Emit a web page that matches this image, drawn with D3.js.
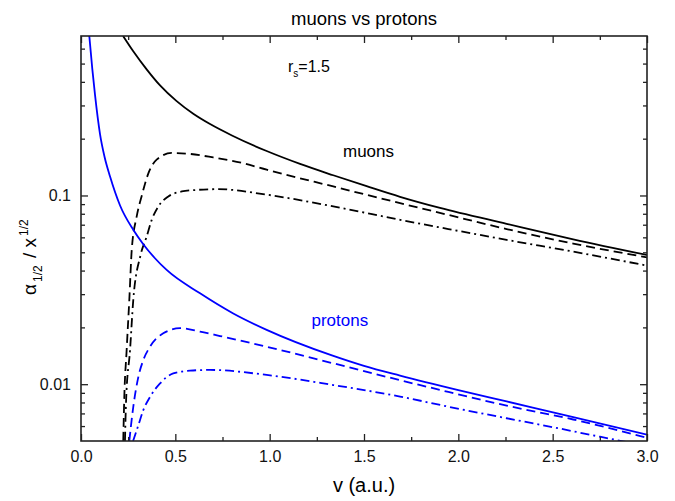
<!DOCTYPE html>
<html>
<head>
<meta charset="utf-8">
<script src="https://cdn.jsdelivr.net/npm/d3@7"></script>
<style>
  body { margin: 0; background: #fff; }
  text { font-family: "Liberation Sans", Arial, sans-serif; }
</style>
</head>
<body>
<div id="container"></div>
<script>
const width = 675;
const height = 501;
const margin = { top: 36, right: 28, bottom: 60, left: 81 };

// v (a.u.), alpha_1/2 / x^1/2
const muonTotal = [
    [0.223, 0.700], [0.277, 0.581], [0.348, 0.466], [0.419, 0.383], [0.507, 0.316],
    [0.595, 0.271], [0.684, 0.239], [0.80, 0.208], [0.984, 0.172], [1.161, 0.147],
    [1.337, 0.128], [1.514, 0.112], [1.691, 0.0984], [1.903, 0.0859], [2.256, 0.0708],
    [2.609, 0.0586], [3.0, 0.0484]
];
const muonDashed = [
    [0.224, 0.005], [0.229, 0.0082], [0.242, 0.0152], [0.256, 0.0279], [0.269, 0.0515],
    [0.295, 0.0773], [0.321, 0.0988], [0.357, 0.131], [0.401, 0.155], [0.481, 0.168],
    [0.578, 0.166], [0.701, 0.159], [0.85, 0.149], [0.984, 0.137], [1.337, 0.1116],
    [1.691, 0.0911], [1.947, 0.0789], [2.256, 0.0664], [2.609, 0.0556], [3.0, 0.047]
];
const muonDashDot = [
    [0.233, 0.005], [0.239, 0.0082], [0.260, 0.0152], [0.277, 0.0279], [0.315, 0.048],
    [0.348, 0.0606], [0.375, 0.0743], [0.410, 0.0875], [0.463, 0.0988], [0.534, 0.105],
    [0.613, 0.107], [0.728, 0.108], [0.984, 0.101], [1.337, 0.0875], [1.691, 0.0743],
    [1.947, 0.0664], [2.256, 0.0582], [2.609, 0.0504], [3.0, 0.0425]
];
const protonTotal = [
    [0.044, 0.700], [0.06, 0.467], [0.074, 0.343], [0.101, 0.211], [0.125, 0.160],
    [0.154, 0.126], [0.207, 0.0885], [0.277, 0.0658], [0.330, 0.0552], [0.392, 0.0465],
    [0.454, 0.0403], [0.631, 0.0303], [0.807, 0.0237], [0.984, 0.0194], [1.33, 0.0142],
    [1.5, 0.0125], [1.691, 0.0111], [2.0, 0.0093], [2.256, 0.0081], [2.609, 0.0067],
    [3.0, 0.0054]
];
const protonDashed = [
    [0.256, 0.005], [0.277, 0.00757], [0.304, 0.01094], [0.330, 0.0134], [0.366, 0.0158],
    [0.436, 0.0186], [0.525, 0.0198], [0.631, 0.0190], [0.737, 0.0180], [0.984, 0.0158],
    [1.337, 0.0129], [1.691, 0.0105], [1.947, 0.0091], [2.256, 0.0077], [2.609, 0.0065],
    [3.0, 0.0052]
];
const protonDashDot = [
    [0.276, 0.005], [0.304, 0.00606], [0.330, 0.00728], [0.366, 0.00857], [0.419, 0.0101],
    [0.489, 0.0114], [0.578, 0.0118], [0.684, 0.0119], [0.984, 0.0112], [1.337, 0.0099],
    [1.691, 0.0086], [1.947, 0.0076], [2.256, 0.0066], [2.5, 0.00592], [2.75, 0.00527],
    [3.0, 0.0047]
];

const xMajor = [0, 0.5, 1.0, 1.5, 2.0, 2.5, 3.0];
const xMinor = [0.25, 0.75, 1.25, 1.75, 2.25, 2.75];
const yMajor = [0.01, 0.1];
const yMinor = [0.006, 0.007, 0.008, 0.009, 0.02, 0.03, 0.04, 0.05, 0.06, 0.07, 0.08, 0.09,
    0.2, 0.3, 0.4, 0.5, 0.6];

const series = [
    { data: muonTotal, color: "#000", dash: null },
    { data: muonDashed, color: "#000", dash: "9,5" },
    { data: muonDashDot, color: "#000", dash: "9,4,2,4" },
    { data: protonTotal, color: "#0000ff", dash: null },
    { data: protonDashed, color: "#0000ff", dash: "9,5" },
    { data: protonDashDot, color: "#0000ff", dash: "9,4,2,4" },
];

const x = d3.scaleLinear().domain([0, 3]).range([margin.left, width - margin.right]);
const y = d3.scaleLog().domain([0.005, 0.7]).range([height - margin.bottom, margin.top]);

const svg = d3.select("#container")
    .append("svg")
    .attr("width", width)
    .attr("height", height);

svg.append("clipPath")
    .attr("id", "plotclip")
    .append("rect")
    .attr("x", x(0))
    .attr("y", y(0.7))
    .attr("width", x(3) - x(0))
    .attr("height", y(0.005) - y(0.7));

const line = d3.line()
    .x((d) => x(d[0]))
    .y((d) => y(d[1]))
    .curve(d3.curveMonotoneX);

svg.append("g")
    .attr("clip-path", "url(#plotclip)")
    .selectAll("path")
    .data(series)
    .enter()
    .append("path")
    .attr("d", (s) => line(s.data))
    .attr("fill", "none")
    .attr("stroke", (s) => s.color)
    .attr("stroke-width", 1.8)
    .attr("stroke-dasharray", (s) => s.dash);

// axes, ticks pointing inward on all four sides
const fmtX = d3.format(".1f");
const addAxis = (axis, tx, ty) => {
    const g = svg.append("g")
        .attr("transform", `translate(${tx},${ty})`)
        .call(axis);
    g.select(".domain").remove();
    g.selectAll("line").attr("stroke", "#222").attr("stroke-width", 1.3);
    g.selectAll("text").attr("font-size", 16).attr("fill", "#111")
        .style("font-family", "'Liberation Sans', Arial, sans-serif");
    return g;
};
const bottomY = y(0.005);
const topY = y(0.7);
addAxis(d3.axisBottom(x).tickValues(xMajor).tickSize(-7).tickPadding(10).tickFormat(fmtX), 0, bottomY);
addAxis(d3.axisBottom(x).tickValues(xMinor).tickSize(-4).tickFormat(""), 0, bottomY);
addAxis(d3.axisTop(x).tickValues(xMajor).tickSize(-7).tickFormat(""), 0, topY);
addAxis(d3.axisTop(x).tickValues(xMinor).tickSize(-4).tickFormat(""), 0, topY);
addAxis(d3.axisLeft(y).tickValues(yMajor).tickSize(-7).tickPadding(10).tickFormat((d) => String(d)), x(0), 0);
addAxis(d3.axisLeft(y).tickValues(yMinor).tickSize(-4).tickFormat(""), x(0), 0);
addAxis(d3.axisRight(y).tickValues(yMajor).tickSize(-7).tickFormat(""), x(3), 0);
addAxis(d3.axisRight(y).tickValues(yMinor).tickSize(-4).tickFormat(""), x(3), 0);

svg.append("rect")
    .attr("x", x(0))
    .attr("y", topY)
    .attr("width", x(3) - x(0))
    .attr("height", bottomY - topY)
    .attr("fill", "none")
    .attr("stroke", "#222")
    .attr("stroke-width", 1.6);

// title and axis labels
svg.append("text")
    .attr("x", (x(0) + x(3)) / 2)
    .attr("y", 25)
    .attr("text-anchor", "middle")
    .attr("font-size", 18.5)
    .text("muons vs protons");

svg.append("text")
    .attr("x", (x(0) + x(3)) / 2)
    .attr("y", 492)
    .attr("text-anchor", "middle")
    .attr("font-size", 20)
    .text("v (a.u.)");

const yl = svg.append("text")
    .attr("transform", "translate(36,295) rotate(-90)")
    .attr("text-anchor", "start")
    .attr("font-size", 19);
yl.append("tspan").text("α");
yl.append("tspan").attr("font-size", 12).attr("dx", 2).attr("dy", 6).text("1/2");
yl.append("tspan").attr("dy", -6).attr("dx", 2).text(" / x");
yl.append("tspan").attr("font-size", 12).attr("dx", 2).attr("dy", -8).text("1/2");

const rs = svg.append("text")
    .attr("x", 288)
    .attr("y", 71.5)
    .attr("font-size", 16);
rs.append("tspan").text("r");
rs.append("tspan").attr("font-size", 10).attr("dy", 5).text("s");
rs.append("tspan").attr("dy", -5).text("=1.5");

svg.append("text")
    .attr("x", 343)
    .attr("y", 157)
    .attr("font-size", 17)
    .text("muons");

svg.append("text")
    .attr("x", 311.5)
    .attr("y", 326)
    .attr("font-size", 17)
    .attr("fill", "#0000ff")
    .text("protons");
</script>
</body>
</html>
